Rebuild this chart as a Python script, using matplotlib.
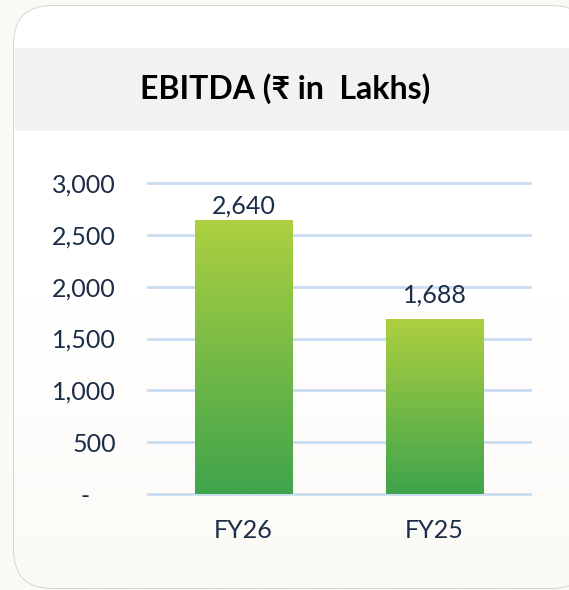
import numpy as np
import matplotlib
matplotlib.use("Agg")
import matplotlib.pyplot as plt
from matplotlib.patches import FancyBboxPatch, Rectangle
from matplotlib.colors import LinearSegmentedColormap

# datos
anios = ["FY26", "FY25"]
ebitda = [2640, 1688]
ticks_y = [0, 500, 1000, 1500, 2000, 2500, 3000]
etiquetas_y = ["-    ", "500", "1,000", "1,500", "2,000", "2,500", "3,000"]
titulo = "EBITDA (\u20b9 in  Lakhs)"

fuente = ["Lato", "Noto Sans", "DejaVu Sans"]
azul_texto = "#1B2D47"
W, H = 569, 590

fig = plt.figure(figsize=(W / 100, H / 100), dpi=100)
fig.patch.set_facecolor("#FBF9F5")

# fondo: tarjeta con bordes redondeados y banda del titulo (en pixeles)
fondo = fig.add_axes([0, 0, 1, 1])
fondo.set_xlim(0, W)
fondo.set_ylim(H, 0)
fondo.axis("off")

tarjeta = FancyBboxPatch((14, 6), 576, 582, boxstyle="round,pad=0,rounding_size=38",
                         facecolor="white", edgecolor="#CFCFCF", linewidth=1.2, zorder=1)
fondo.add_patch(tarjeta)
# leve tono calido abajo
grad = np.linspace(0, 1, 256).reshape(-1, 1)
cmap_fondo = LinearSegmentedColormap.from_list("f", ["#FFFFFF", "#FFFFFF", "#FCFAF6"])
img = fondo.imshow(grad, cmap=cmap_fondo, extent=(14, 590, 588, 6), aspect="auto", zorder=1.5)
img.set_clip_path(tarjeta)

fondo.add_patch(Rectangle((14.6, 48), 560, 83, facecolor="#F2F2F2", edgecolor="none", zorder=2))
fondo.text(285, 89, titulo, ha="center", va="center", fontsize=23, fontweight="bold",
           family=fuente, color="black", zorder=3)

# grafico de barras
ax = fig.add_axes([148 / W, (H - 494) / H, 382 / W, 311 / H])
ax.patch.set_alpha(0)
x = np.arange(len(anios))
barras = ax.bar(x, ebitda, width=0.51, facecolor="none", edgecolor="none", zorder=3)

cmap_barra = LinearSegmentedColormap.from_list("g", ["#3FA44C", "#ADD040"])
for b in barras:
    x0, w, h = b.get_x(), b.get_width(), b.get_height()
    im = ax.imshow(grad[::-1], cmap=cmap_barra, extent=(x0, x0 + w, 0, h),
                   aspect="auto", zorder=3)
    im.set_clip_path(b)

ax.set_xlim(-0.5, 1.5)
ax.set_ylim(0, 3000)
ax.set_yticks(ticks_y)
ax.set_yticklabels(etiquetas_y)
ax.set_xticks(x)
ax.set_xticklabels(anios)
for g in ticks_y:
    ax.axhline(g, color="#C9DCF0", linewidth=2, zorder=1, clip_on=False)

for s in ax.spines.values():
    s.set_visible(False)
ax.tick_params(axis="both", length=0, labelsize=18, labelcolor=azul_texto)
ax.tick_params(axis="y", pad=23)
ax.tick_params(axis="x", pad=18)
for t in ax.get_xticklabels() + ax.get_yticklabels():
    t.set_family(fuente)

# etiquetas de valor (la de FY25 queda un poco mas arriba, como en el original)
separacion = [2, 9]
for b, v, sep in zip(barras, ebitda, separacion):
    ax.annotate(f"{v:,}", (b.get_x() + b.get_width() / 2, b.get_height()),
                xytext=(0, sep), textcoords="offset points", ha="center", va="bottom",
                fontsize=18, color=azul_texto, family=fuente)

fig.savefig("out.png", dpi=100, facecolor=fig.get_facecolor())
